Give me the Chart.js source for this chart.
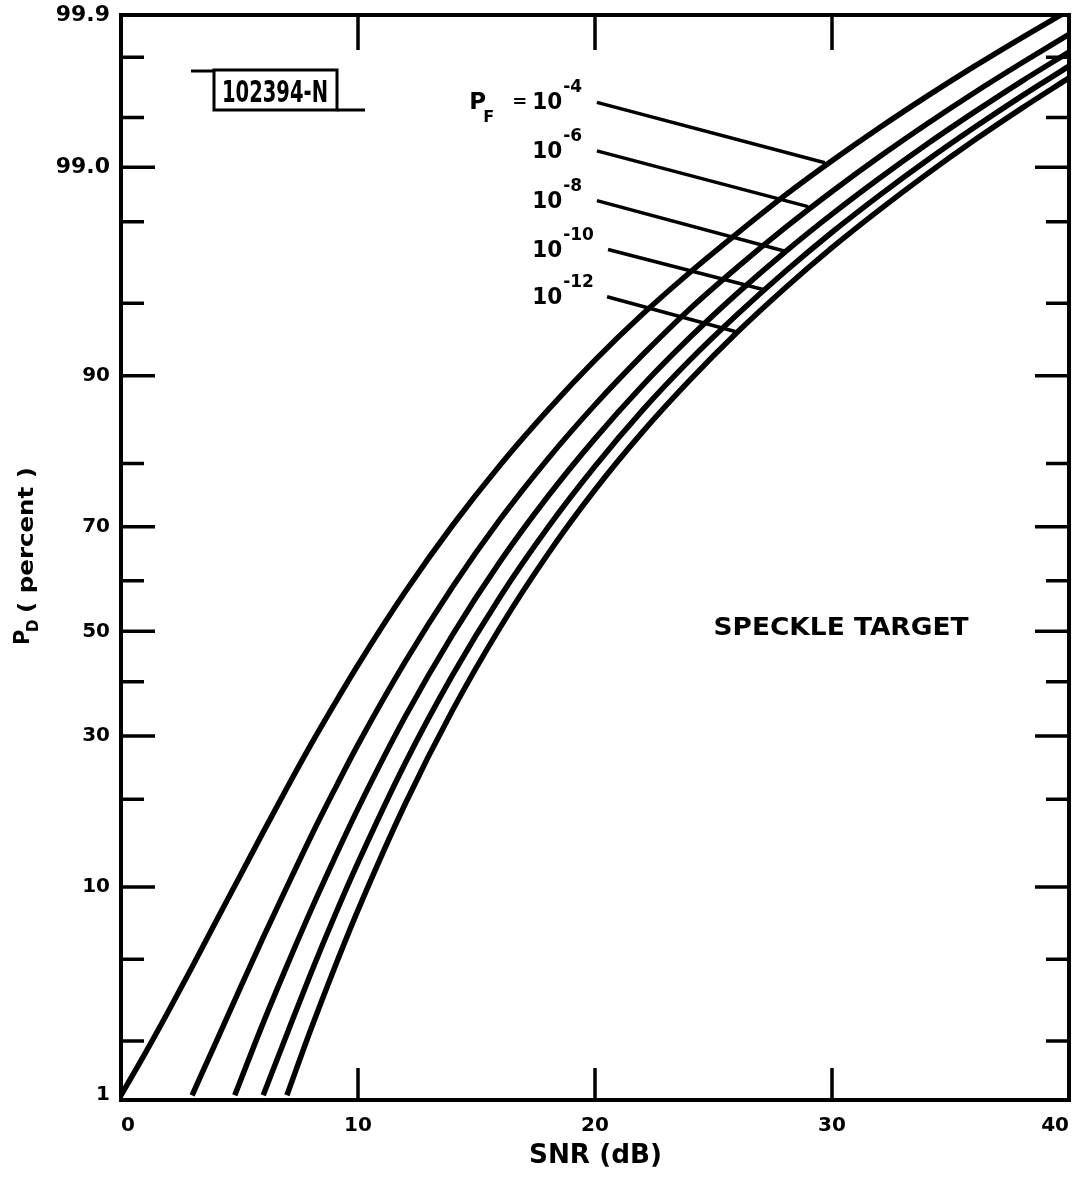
<!DOCTYPE html>
<html>
<head>
<meta charset="utf-8">
<script src="https://cdn.jsdelivr.net/npm/chart.js@4.4.1/dist/chart.umd.min.js"></script>
<style>
  html, body { margin: 0; padding: 0; background: #fff; }
  canvas { display: block; }
</style>
</head>
<body>
<canvas id="pdChart" width="1078" height="1190"></canvas>
<script>
const FONT = '"DejaVu Sans", "Liberation Sans", sans-serif';

// SNR (dB) sample points and P_D (percent)
const snrPf4  = [0, 1, 2, 3, 4, 5, 6, 7, 8, 9, 10, 12, 14, 16, 18, 20, 22, 24, 26, 28, 30, 32, 34, 36, 38, 40];
const pdPf4   = [1.0, 1.7, 2.84, 4.62, 7.26, 10.9, 15.7, 21.6, 28.4, 35.7, 43.3, 57.9, 70.3, 79.8, 86.6, 91.3, 94.4, 96.4, 97.7, 98.553, 99.084, 99.421, 99.634, 99.769, 99.854, 99.908];
const snrPf6  = [3, 4, 5, 6, 7, 8, 9, 10, 12, 14, 16, 18, 20, 22, 24, 26, 28, 30, 32, 34, 36, 38, 40];
const pdPf6   = [1.0, 1.96, 3.62, 6.24, 10.0, 15.1, 21.3, 28.5, 44.0, 58.9, 71.3, 80.6, 87.2, 91.7, 94.7, 96.6, 97.838, 98.629, 99.133, 99.452, 99.654, 99.781, 99.862];
const snrPf8  = [4.8, 6, 7, 8, 9, 10, 12, 14, 16, 18, 20, 22, 24, 26, 28, 30, 32, 34, 36, 38, 40];
const pdPf8   = [1.0, 2.48, 4.67, 8.04, 12.7, 18.7, 33.5, 49.4, 63.7, 75.0, 83.3, 89.1, 92.96, 95.49, 97.13, 98.177, 98.845, 99.270, 99.538, 99.709, 99.816];
const snrPf10 = [6, 7, 8, 9, 10, 12, 14, 16, 18, 20, 22, 24, 26, 28, 30, 32, 34, 36, 38, 40];
const pdPf10  = [1.0, 2.17, 4.29, 7.62, 12.3, 25.5, 41.4, 56.9, 69.8, 79.6, 86.6, 91.3, 94.39, 96.42, 97.73, 98.559, 99.088, 99.423, 99.636, 99.770];
const snrPf12 = [7, 8, 9, 10, 12, 14, 16, 18, 20, 22, 24, 26, 28, 30, 32, 34, 36, 38, 40];
const pdPf12  = [1.0, 2.28, 4.55, 8.11, 19.4, 34.7, 50.8, 65.0, 76.1, 84.1, 89.6, 93.31, 95.72, 97.28, 98.27, 98.906, 99.309, 99.563, 99.724];

// axis ticks
const xTicks = [10, 20, 30];
const yTickValues = [1, 2, 5, 10, 20, 30, 40, 50, 60, 70, 80, 90, 95, 98, 99, 99.5, 99.8, 99.9];
const yTickLabels = ['1', '', '', '10', '', '30', '', '50', '', '70', '', '90', '', '', '99.0', '', '', '99.9'];

// curve labels: exponent, leader start / end in (dB, percent)
const pfExponents = ['-4', '-6', '-8', '-10', '-12'];
const leaderFromDb = [20.08, 20.08, 20.08, 20.55, 20.51];
const leaderFromPd = [99.60, 99.20, 98.46, 97.22, 95.33];
const leaderToDb   = [29.70, 28.99, 28.10, 27.09, 25.91];
const leaderToPd   = [99.06, 98.34, 97.15, 95.67, 93.36];

// inverse normal CDF (normal probability paper)
function probit(p) {
  const a = [-3.969683028665376e+01, 2.209460984245205e+02, -2.759285104469687e+02, 1.383577518672690e+02, -3.066479806614716e+01, 2.506628277459239e+00];
  const b = [-5.447609879822406e+01, 1.615858368580409e+02, -1.556989798598866e+02, 6.680131188771972e+01, -1.328068155288572e+01];
  const c = [-7.784894002430293e-03, -3.223964580411365e-01, -2.400758277161838e+00, -2.549732539343734e+00, 4.374664141464968e+00, 2.938163982698783e+00];
  const d = [7.784695709041462e-03, 3.224671290700398e-01, 2.445134137142996e+00, 3.754408661907416e+00];
  const pl = 0.02425;
  if (p < pl) {
    const q = Math.sqrt(-2 * Math.log(p));
    return (((((c[0]*q+c[1])*q+c[2])*q+c[3])*q+c[4])*q+c[5]) / ((((d[0]*q+d[1])*q+d[2])*q+d[3])*q+1);
  }
  if (p > 1 - pl) {
    const q = Math.sqrt(-2 * Math.log(1 - p));
    return -(((((c[0]*q+c[1])*q+c[2])*q+c[3])*q+c[4])*q+c[5]) / ((((d[0]*q+d[1])*q+d[2])*q+d[3])*q+1);
  }
  const q = p - 0.5, r = q * q;
  return (((((a[0]*r+a[1])*r+a[2])*r+a[3])*r+a[4])*r+a[5])*q / (((((b[0]*r+b[1])*r+b[2])*r+b[3])*r+b[4])*r+1);
}
const z = pct => probit(pct / 100);

function curve(xs, ys) {
  return {
    data: xs.map((x, i) => ({ x: x, y: z(ys[i]) })),
    borderColor: '#000',
    borderWidth: 5.5,
    pointRadius: 0,
    fill: false,
    cubicInterpolationMode: 'monotone'
  };
}

// draw text squeezed/stretched to a given width
function fitText(ctx, text, x, y, width) {
  const w = ctx.measureText(text).width;
  ctx.save();
  ctx.translate(x, y);
  ctx.scale(width / w, 1);
  ctx.fillText(text, 0, 0);
  ctx.restore();
}

const paperPlugin = {
  id: 'paper',
  afterDatasetsDraw(chart) {
    const ctx = chart.ctx;
    const ca = chart.chartArea;
    const xs = chart.scales.x, ys = chart.scales.y;
    ctx.save();
    ctx.strokeStyle = '#000';
    ctx.fillStyle = '#000';
    ctx.lineCap = 'butt';

    // frame
    ctx.lineWidth = 4;
    ctx.strokeRect(ca.left, ca.top, ca.right - ca.left, ca.bottom - ca.top);

    // inward ticks
    ctx.lineWidth = 3.5;
    ctx.beginPath();
    xTicks.forEach(v => {
      const px = xs.getPixelForValue(v);
      ctx.moveTo(px, ca.bottom); ctx.lineTo(px, ca.bottom - 32);
      ctx.moveTo(px, ca.top); ctx.lineTo(px, ca.top + 35);
    });
    yTickValues.forEach((v, i) => {
      if (v === 1 || v === 99.9) return;
      const py = ys.getPixelForValue(z(v));
      const len = yTickLabels[i] ? 34 : 23;
      ctx.moveTo(ca.left, py); ctx.lineTo(ca.left + len, py);
      ctx.moveTo(ca.right, py); ctx.lineTo(ca.right - len, py);
    });
    ctx.stroke();

    // curve labels with leaders
    ctx.lineWidth = 3.5;
    ctx.textAlign = 'left';
    ctx.textBaseline = 'alphabetic';
    const textX = xs.getPixelForValue(17.35);
    pfExponents.forEach((e, i) => {
      const x0 = xs.getPixelForValue(leaderFromDb[i]), y0 = ys.getPixelForValue(z(leaderFromPd[i]));
      const x1 = xs.getPixelForValue(leaderToDb[i]), y1 = ys.getPixelForValue(z(leaderToPd[i]));
      ctx.beginPath(); ctx.moveTo(x0, y0); ctx.lineTo(x1, y1); ctx.stroke();
      const base = y0 + 7;
      ctx.font = `bold 23px ${FONT}`;
      fitText(ctx, '10', textX, base, 30);
      ctx.font = `bold 17px ${FONT}`;
      ctx.fillText(e, textX + 31, base - 17);
      if (i === 0) {
        ctx.font = `bold 23px ${FONT}`;
        ctx.fillText('P', textX - 63, base);
        ctx.font = `bold 16px ${FONT}`;
        ctx.fillText('F', textX - 49, base + 13);
        ctx.font = `bold 18px ${FONT}`;
        ctx.fillText('=', textX - 20, base - 2);
      }
    });

    // SPECKLE TARGET
    ctx.font = `bold 24px ${FONT}`;
    fitText(ctx, 'SPECKLE TARGET', xs.getPixelForValue(25), ys.getPixelForValue(z(50)) + 4, 255);

    // figure number stamp
    const bx = ca.left + 93, by = ca.top + 55, bw = 123, bh = 40;
    ctx.lineWidth = 3;
    ctx.strokeRect(bx, by, bw, bh);
    ctx.beginPath();
    ctx.moveTo(bx - 23, by + 1); ctx.lineTo(bx, by + 1);
    ctx.moveTo(bx + bw, by + bh); ctx.lineTo(bx + bw + 28, by + bh);
    ctx.stroke();
    ctx.font = `bold 30px "DejaVu Sans Condensed", ${FONT}`;
    fitText(ctx, '102394-N', bx + 8, by + 32, 106);

    // x axis title
    ctx.font = `bold 26px ${FONT}`;
    fitText(ctx, 'SNR (dB)', (ca.left + ca.right) / 2 - 66, 1163, 133);

    // y axis title
    ctx.save();
    ctx.translate(33, 645);
    ctx.rotate(-Math.PI / 2);
    ctx.font = `bold 21px ${FONT}`;
    ctx.fillText('P', 0, -4);
    ctx.font = `bold 15px ${FONT}`;
    ctx.fillText('D', 13, 5);
    ctx.font = `bold 21px ${FONT}`;
    fitText(ctx, '( percent )', 32, 0, 146);
    ctx.restore();

    ctx.restore();
  }
};

new Chart(document.getElementById('pdChart').getContext('2d'), {
  type: 'line',
  data: {
    datasets: [
      curve(snrPf4, pdPf4),
      curve(snrPf6, pdPf6),
      curve(snrPf8, pdPf8),
      curve(snrPf10, pdPf10),
      curve(snrPf12, pdPf12)
    ]
  },
  options: {
    responsive: false,
    animation: false,
    devicePixelRatio: 1,
    layout: { padding: { left: 0, right: 9, top: 15, bottom: 0 } },
    plugins: { legend: { display: false }, tooltip: { enabled: false } },
    scales: {
      x: {
        type: 'linear',
        min: 0,
        max: 40,
        grid: { display: false, drawTicks: false },
        border: { display: false },
        ticks: { stepSize: 10, align: 'inner', color: '#000', padding: 14, maxRotation: 0, font: { family: FONT, size: 20, weight: 'bold' } },
        afterFit(s) { s.height = 90; s.paddingLeft = 0; s.paddingRight = 0; }
      },
      y: {
        type: 'linear',
        min: -2.35,
        max: z(99.9),
        grid: { display: false, drawTicks: false },
        border: { display: false },
        afterBuildTicks(s) { s.ticks = yTickValues.map(v => ({ value: z(v) })); },
        ticks: {
          autoSkip: false,
          color: '#000',
          padding: 11,
          font: c => ({ family: FONT, size: c.index >= 14 ? 22 : 20, weight: 'bold' }),
          callback: (v, i) => yTickLabels[i]
        },
        afterFit(s) { s.width = 121; s.paddingTop = 0; s.paddingBottom = 0; }
      }
    }
  },
  plugins: [paperPlugin]
});
</script>
</body>
</html>
